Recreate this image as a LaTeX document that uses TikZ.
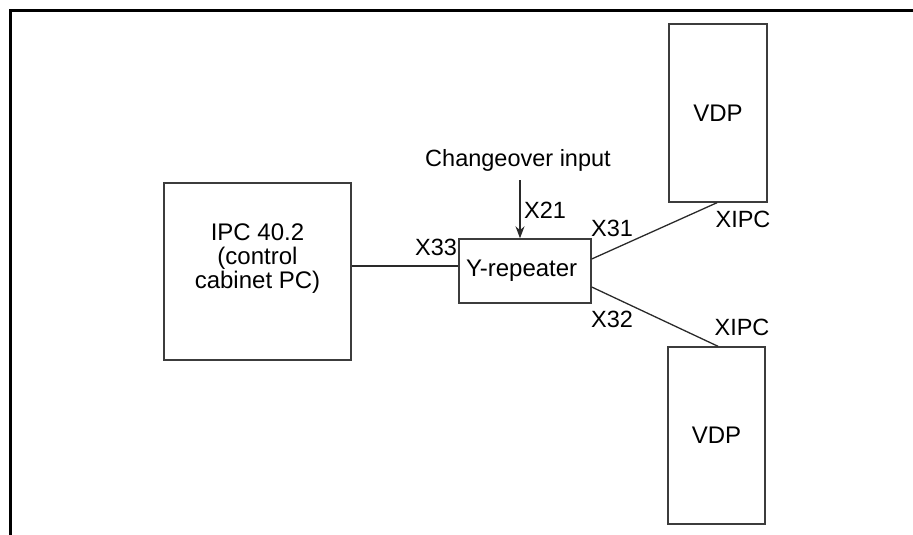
\documentclass[tikz,border=0pt]{standalone}
\usepackage{fontspec}
\setmainfont{Liberation Sans}
\usepackage{tikz}
\usetikzlibrary{arrows.meta}
\definecolor{FrameLine}{HTML}{000000}
\definecolor{BoxLine}{HTML}{3C3C3C}
\definecolor{WireLine}{HTML}{2A2A2A}
\tikzset{
  unit/.style={draw=BoxLine,line width=1.4pt,inner sep=0pt,font=\fontsize{24}{25}\selectfont},
  tag/.style={inner sep=0pt,font=\fontsize{23.5}{25}\selectfont},
  wire/.style={WireLine,line width=1.3pt}
}
\begin{document}
\begin{tikzpicture}[x=1pt,y=-1pt]
      \useasboundingbox (0,0) rectangle (913,535);
      \draw[FrameLine,line width=3pt] (913,11) -- (10.5,11) -- (10.5,535);
      % units
      \node[unit,minimum width=187pt,minimum height=177pt] (ipc) at (257.5,271.5) {};
      \node[tag,align=center,font=\fontsize{24}{24}\selectfont] (ipctext) at (257.5,259) {IPC 40.2\\(control\\cabinet PC)};
      \node[unit,minimum width=132pt,minimum height=64pt,text width=118pt] (rep) at (525,271) {Y-repeater};
      \node[unit,minimum width=98pt,minimum height=178pt] (vdpa) at (718,113) {VDP};
      \node[unit,minimum width=97pt,minimum height=177pt] (vdpb) at (716.5,435.5) {VDP};
      % changeover input
      \node[tag] (chgtext) at (518,160) {Changeover input};
      \coordinate (chg) at (520,180);
      \draw[wire,-{Stealth[length=12pt,width=9pt]}] (chg) -- (chg |- rep.north);
      % wiring
      \draw[wire] ([yshift=5pt]rep.west) -- ([yshift=5pt]rep.west -| ipc.east);
      \draw[wire] ([yshift=12pt]rep.east) -- ([xshift=-1pt]vdpa.south);
      \draw[wire] ([yshift=-16pt]rep.east) -- ([xshift=1.5pt]vdpb.north);
      % connector names
      \node[tag] (x21) at (545,210) {X21};
      \node[tag] (x33) at (436,247) {X33};
      \node[tag] (x31) at (612,228) {X31};
      \node[tag] (x32) at (612,319) {X32};
      \node[tag] (xipca) at (743,219) {XIPC};
      \node[tag] (xipcb) at (742,327) {XIPC};
    \end{tikzpicture}
\end{document}
